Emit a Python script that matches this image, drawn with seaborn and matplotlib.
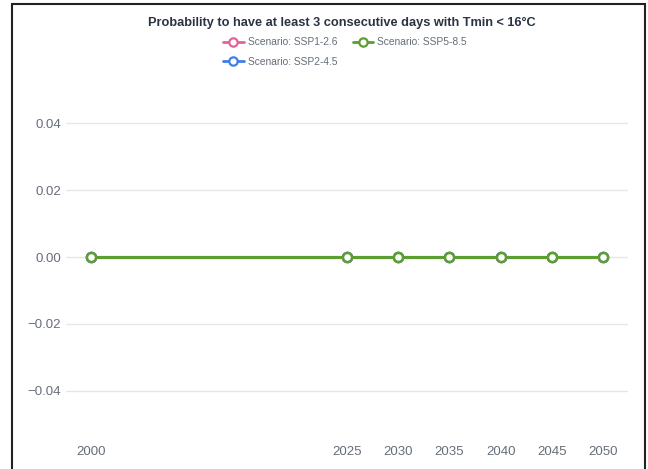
import pandas as pd
import numpy as np
import matplotlib.pyplot as plt
import seaborn as sns
from matplotlib.patches import Rectangle

## Data
years = [2000, 2025, 2030, 2035, 2040, 2045, 2050]
scenarios = ["Scenario: SSP1-2.6", "Scenario: SSP2-4.5", "Scenario: SSP5-8.5"]
ssp126 = [0.0, 0.0, 0.0, 0.0, 0.0, 0.0, 0.0]
ssp245 = [0.0, 0.0, 0.0, 0.0, 0.0, 0.0, 0.0]
ssp585 = [0.0, 0.0, 0.0, 0.0, 0.0, 0.0, 0.0]
colors = ["#e0649c", "#3f7fe6", "#5c9e31"]

df = pd.concat([
    pd.DataFrame({"year": years, "value": vals, "scenario": name})
    for name, vals in zip(scenarios, [ssp126, ssp245, ssp585])
])

sns.set_theme(style="white")
plt.rcParams["font.family"] = ["Liberation Sans", "DejaVu Sans"]

fig = plt.figure(figsize=(6.48, 4.69), dpi=100)
ax = fig.add_axes([66 / 648, 1 - 424 / 469, 562 / 648, 334 / 469])

sns.lineplot(
    data=df, x="year", y="value", hue="scenario",
    palette=colors, hue_order=scenarios,
    marker="o", markersize=6.5, markerfacecolor="white",
    markeredgewidth=1.8, linewidth=2.2, ax=ax, legend=False,
)
# color marker edges per line
for line, c in zip(ax.get_lines(), colors):
    line.set_markeredgecolor(c)

ax.set_xlim(1997.56, 2052.44)
ax.set_ylim(-0.05, 0.05)
ax.set_yticks([-0.04, -0.02, 0.0, 0.02, 0.04])
ax.set_yticklabels(["\u22120.04", "\u22120.02", "0.00", "0.02", "0.04"])
ax.set_xticks(years)
ax.set_xticklabels([str(y) for y in years])
ax.set_xlabel("")
ax.set_ylabel("")
ax.grid(axis="y", color="#e6e6e6", linewidth=1)
ax.set_axisbelow(True)
for s in ax.spines.values():
    s.set_visible(False)
ax.tick_params(axis="both", length=0, labelsize=9.5, colors="#666e7a")
ax.tick_params(axis="y", pad=3.5)
ax.tick_params(axis="x", pad=16)

fig.text(342 / 648, 1 - 23 / 469, "Probability to have at least 3 consecutive days with Tmin < 16\u00b0C",
         ha="center", va="center", fontsize=9.2, fontweight="bold", color="#2a3342")

handles = [
    plt.Line2D([], [], color=c, linewidth=2.0, marker="o", markersize=6,
               markerfacecolor="white", markeredgewidth=1.6, markeredgecolor=c)
    for c in colors
]
fig.legend(handles, scenarios, ncol=2, loc="upper center",
           bbox_to_anchor=(345 / 648, 1 - 32 / 469), frameon=False,
           fontsize=7.4, labelcolor="#666e7a", handlelength=2.0,
           columnspacing=1.5, handletextpad=0.4, labelspacing=0.95,
           borderpad=0)

fig.patches.append(Rectangle((12 / 648, -0.1), 633 / 648, 1.1 - 4 / 469,
                             transform=fig.transFigure, fill=False,
                             edgecolor="#222222", linewidth=1.5))

fig.savefig("out.png", dpi=100)
